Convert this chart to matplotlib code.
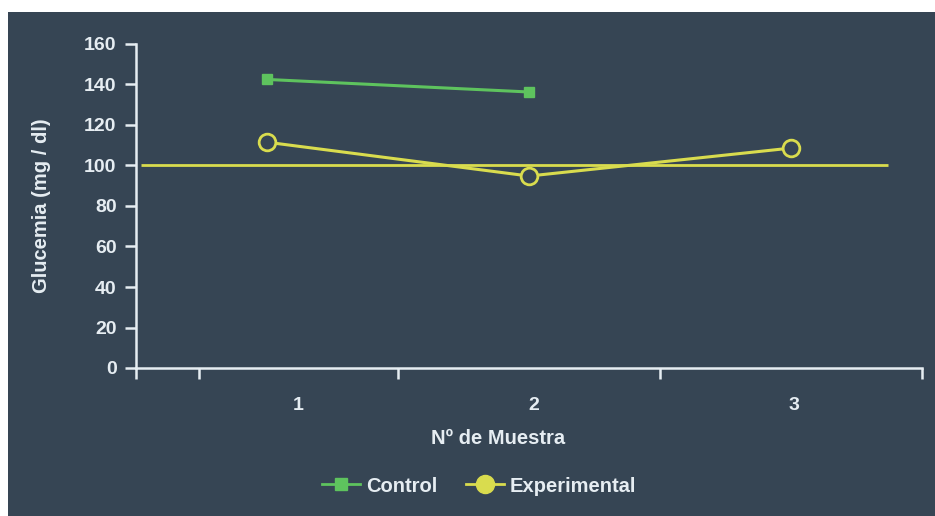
import matplotlib.pyplot as plt
from matplotlib.lines import Line2D
from matplotlib.patches import Rectangle

# glucose readings per sample
muestras = [1, 2, 3]
control = [142.5, 136.3]
experimental = [111.5, 94.8, 108.6]
referencia = 100

y_ticks = [0, 20, 40, 60, 80, 100, 120, 140, 160]
x_labels = ["1", "2", "3"]

BG = "#364554"
FG = "#e6edf2"
GREEN = "#5ec35e"
YELLOW = "#d9dc4e"

plt.rcParams["font.family"] = ["Liberation Sans", "DejaVu Sans"]
plt.rcParams["font.weight"] = "bold"

fig = plt.figure(figsize=(9.35, 5.16), dpi=100)
fig.patch.set_facecolor("white")
fig.patches.append(Rectangle((8 / 935, 0), 1, 1 - 12 / 516,
                             transform=fig.transFigure, facecolor=BG,
                             edgecolor="none", zorder=-10))

W, H = 935, 516
ax = fig.add_axes([136 / W, (H - 368) / H, (922 - 136) / W, (368 - 44) / H])
ax.set_facecolor("none")

# reference line at 100 mg/dl
ax.hlines(referencia, 0.52, 3.37, color=YELLOW, lw=2, zorder=2)

ax.plot(muestras[:len(control)], control, color=GREEN, lw=2.2,
        marker="s", markersize=7, zorder=3)
ax.plot(muestras, experimental, color=YELLOW, lw=2.2, marker="o",
        markersize=12, markerfacecolor=BG, markeredgecolor=YELLOW,
        markeredgewidth=2, zorder=3)

ax.set_xlim(0.5, 3.5)
ax.set_ylim(0, 160)

for side in ["top", "right"]:
    ax.spines[side].set_visible(False)
for side in ["left", "bottom"]:
    ax.spines[side].set_color(FG)
    ax.spines[side].set_linewidth(1.8)

ax.set_yticks(y_ticks)
ax.tick_params(axis="y", colors=FG, length=8, width=1.8, pad=6,
               labelsize=14)

ax.set_xticks([0.5, 0.74, 1.5, 2.5, 3.5])
ax.set_xticklabels([])
ax.tick_params(axis="x", which="major", colors=FG, length=8, width=1.8)
ax.set_xticks([1.12, 2.02, 3.01], minor=True)
ax.set_xticklabels(x_labels, minor=True)
ax.tick_params(axis="x", which="minor", length=0, pad=21, labelsize=14,
               labelcolor=FG)

fig.text(498 / W, 1 - 438 / H, "Nº de Muestra", color=FG, fontsize=14.5,
         fontweight="bold", ha="center", va="center")
fig.text(42 / W, 1 - 206 / H, "Glucemia (mg / dl)", color=FG, fontsize=14.5,
         fontweight="bold", ha="center", va="center", rotation=90)

handles = [
    Line2D([], [], color=GREEN, lw=2, marker="s", markersize=8),
    Line2D([], [], color=YELLOW, lw=2, marker="o", markersize=13),
]
leg = fig.legend(handles, ["Control", "Experimental"], ncol=2,
                 loc="center", bbox_to_anchor=(479 / W, 1 - 486 / H),
                 frameon=False, fontsize=14.5, handlelength=1.9,
                 handletextpad=0.3, columnspacing=1.4)
for t in leg.get_texts():
    t.set_color(FG)

fig.savefig("out.png", dpi=100, facecolor=fig.get_facecolor())
